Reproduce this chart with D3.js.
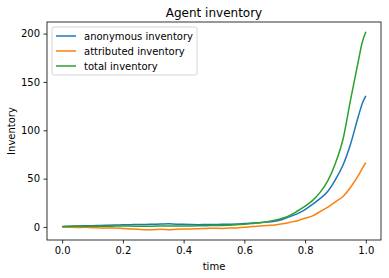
<!DOCTYPE html>
<html>
<head>
<meta charset="utf-8">
<script src="https://cdn.jsdelivr.net/npm/d3@7"></script>
<style>
body { margin: 0; background: #fff; }
text { font-family: "DejaVu Sans", sans-serif; }
</style>
</head>
<body>
<div id="chart"></div>
<script>
var width = 389,
    height = 278,
    margin = { top: 22, right: 8, bottom: 38, left: 47 };

// Data
var time = [0, 0.025, 0.05, 0.075, 0.1, 0.125, 0.15, 0.175, 0.2, 0.225,
            0.25, 0.275, 0.3, 0.325, 0.35, 0.375, 0.4, 0.425, 0.45, 0.475,
            0.5, 0.525, 0.55, 0.575, 0.6, 0.625, 0.65, 0.675, 0.7, 0.725,
            0.75, 0.775, 0.8, 0.825, 0.85, 0.875, 0.9, 0.925, 0.95, 0.975, 0.9875, 1.0];

var anonymous = [0.5, 0.8, 1.0, 1.2, 1.3, 1.6, 1.8, 2.0, 2.2, 2.4,
                 2.6, 2.5, 2.8, 3.0, 3.2, 2.9, 2.7, 2.5, 2.4, 2.6,
                 2.5, 2.7, 2.8, 3.0, 3.6, 4.0, 4.4, 5.0, 6.0, 7.8,
                 10.7, 13.8, 18, 23.5, 29.5, 37, 49, 64, 86, 114, 127, 135.5];

var attributed = [0, -0.3, -0.5, -0.4, -0.8, -1.0, -1.2, -1.1, -1.5, -2.0,
                  -2.5, -3.0, -2.8, -2.5, -2.8, -2.5, -2.2, -2.0, -1.8, -1.5,
                  -1.3, -1.5, -1.2, -1.0, -0.4, 0.5, 1.0, 1.5, 2.0, 3.2,
                  4.8, 6.5, 9.0, 11.5, 16, 20.5, 26, 31.5, 41, 53, 60, 66.6];

var total = [0.3, 0.5, 0.6, 0.5, 0.7, 0.8, 0.7, 0.9, 1.0, 0.9,
             0.8, 0.7, 0.8, 1.0, 1.0, 1.1, 1.0, 1.1, 1.2, 1.3,
             1.5, 1.6, 1.8, 2.2, 2.8, 3.5, 4.3, 5.5, 7.0, 9.0,
             12.0, 16.5, 21.5, 27.5, 36, 48, 66, 91, 132, 171, 190, 202];

var seriesNames = ["anonymous inventory", "attributed inventory", "total inventory"];
var seriesColors = ["#1f77b4", "#ff7f0e", "#2ca02c"];
var seriesValues = [anonymous, attributed, total];

var xTicks = [0, 0.2, 0.4, 0.6, 0.8, 1.0];
var yTicks = [0, 50, 100, 150, 200];

var svg = d3.select("#chart").append("svg")
    .attr("width", width)
    .attr("height", height);

var x = d3.scaleLinear()
    .domain([-0.05, 1.05])
    .range([margin.left, width - margin.right]);

var y = d3.scaleLinear()
    .domain([-13.5, 212])
    .range([height - margin.bottom, margin.top]);

// lines
var line = d3.line()
    .curve(d3.curveMonotoneX)
    .x(function (d, i) { return x(time[i]); })
    .y(function (d) { return y(d); });

svg.selectAll("path.series")
    .data(seriesValues)
    .join("path")
    .attr("class", "series")
    .attr("fill", "none")
    .attr("stroke", function (d, i) { return seriesColors[i]; })
    .attr("stroke-width", 1.5)
    .attr("d", line);

// axes
var xAxis = svg.append("g")
    .attr("transform", "translate(0," + (height - margin.bottom) + ")")
    .call(d3.axisBottom(x).tickValues(xTicks).tickFormat(d3.format(".1f")).tickSize(3.5).tickPadding(3.5));

var yAxis = svg.append("g")
    .attr("transform", "translate(" + margin.left + ",0)")
    .call(d3.axisLeft(y).tickValues(yTicks).tickFormat(d3.format("d")).tickSize(3.5).tickPadding(3.5));

[xAxis, yAxis].forEach(function (g) {
    g.select(".domain").remove();
    g.selectAll("line").attr("stroke", "#000").attr("stroke-width", 0.8);
    g.selectAll("text").attr("font-size", 10).attr("fill", "#000")
        .style("font-family", "DejaVu Sans, sans-serif");
});

// frame
svg.append("rect")
    .attr("x", margin.left)
    .attr("y", margin.top)
    .attr("width", width - margin.left - margin.right)
    .attr("height", height - margin.top - margin.bottom)
    .attr("fill", "none")
    .attr("stroke", "#000")
    .attr("stroke-width", 0.8);

// labels
svg.append("text")
    .attr("x", (margin.left + width - margin.right) / 2)
    .attr("y", 17)
    .attr("text-anchor", "middle")
    .attr("font-size", 12)
    .text("Agent inventory");

svg.append("text")
    .attr("x", (margin.left + width - margin.right) / 2)
    .attr("y", 270)
    .attr("text-anchor", "middle")
    .attr("font-size", 10)
    .text("time");

svg.append("text")
    .attr("transform", "translate(15," + ((margin.top + height - margin.bottom) / 2) + ") rotate(-90)")
    .attr("text-anchor", "middle")
    .attr("font-size", 10)
    .text("Inventory");

// legend
var legend = svg.append("g").attr("transform", "translate(52,27)");

legend.append("rect")
    .attr("width", 145)
    .attr("height", 48)
    .attr("rx", 2)
    .attr("fill", "#fff")
    .attr("fill-opacity", 0.8)
    .attr("stroke", "#ccc")
    .attr("stroke-width", 0.8);

var items = legend.selectAll("g.item")
    .data(seriesNames)
    .join("g")
    .attr("class", "item")
    .attr("transform", function (d, i) { return "translate(0," + (9 + i * 15) + ")"; });

items.append("line")
    .attr("x1", 4)
    .attr("x2", 24)
    .attr("stroke", function (d, i) { return seriesColors[i]; })
    .attr("stroke-width", 1.5);

items.append("text")
    .attr("x", 32)
    .attr("dy", "0.35em")
    .attr("font-size", 10)
    .text(function (d) { return d; });
</script>
</body>
</html>
